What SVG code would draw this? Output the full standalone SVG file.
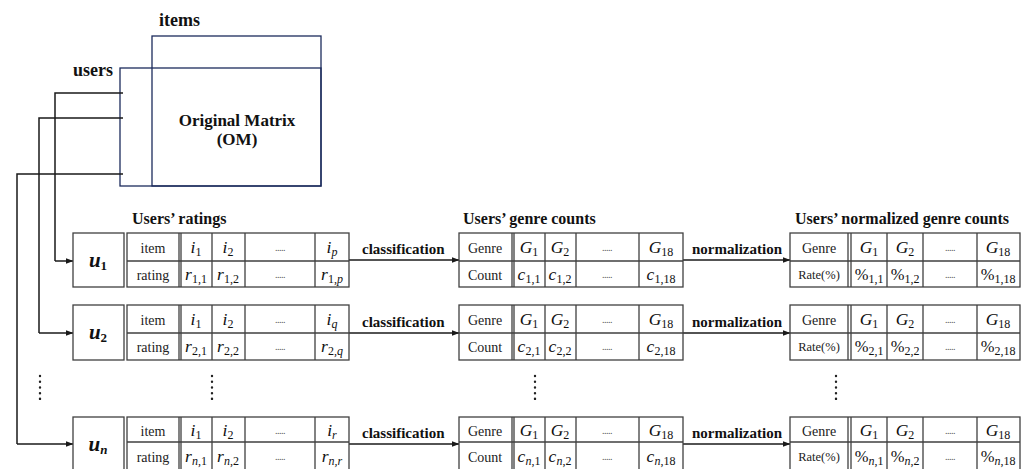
<svg xmlns="http://www.w3.org/2000/svg" width="1024" height="469" viewBox="0 0 1024 469">
  <style>
    .bg { fill: #ffffff; }
    .om { fill: none; stroke: #1c2b5c; stroke-width: 1.3; }
    .cell { fill: #ffffff; stroke: #404040; stroke-width: 1.3; }
    .ln { stroke: #404040; stroke-width: 1.3; fill: none; }
    .wire { stroke: #1a1a1a; stroke-width: 1.5; fill: none; }
    .arr { stroke: #1a1a1a; stroke-width: 1.5; fill: none; marker-end: url(#ah); }
    .title { font-family: "Liberation Serif", "Times New Roman", serif; font-weight: bold; font-size: 16px; fill: #111; }
    .big { font-family: "Liberation Serif", "Times New Roman", serif; font-weight: bold; font-size: 18px; fill: #111; }
    .om-t { font-family: "Liberation Serif", "Times New Roman", serif; font-weight: bold; font-size: 17px; fill: #111; text-anchor: middle; }
    .lab { font-family: "Liberation Serif", "Times New Roman", serif; font-weight: bold; font-size: 15px; fill: #111; }
    .tx { font-family: "Liberation Serif", "Times New Roman", serif; font-size: 14px; fill: #222; text-anchor: middle; }
    .sm { font-family: "Liberation Serif", "Times New Roman", serif; font-size: 12.5px; fill: #222; text-anchor: middle; }
    .m { font-family: "Liberation Serif", "Times New Roman", serif; font-style: italic; font-size: 17.5px; fill: #111; text-anchor: middle; }
    .pc { font-family: "Liberation Serif", "Times New Roman", serif; font-size: 16.5px; fill: #111; text-anchor: middle; }
    .sub { font-size: 12px; font-style: normal; }
    .u { font-family: "Liberation Serif", "Times New Roman", serif; font-style: italic; font-weight: bold; font-size: 21px; fill: #111; text-anchor: middle; }
    .usub { font-size: 13px; font-style: normal; }
    .it { font-style: italic; }
    .dots { font-family: "Liberation Serif", "Times New Roman", serif; font-size: 10px; fill: #555; text-anchor: middle; letter-spacing: -0.5px; }
    .vd { stroke: #222; stroke-width: 2.4; stroke-linecap: round; stroke-dasharray: 0.1 5.6; fill: none; }
  </style>
  <defs>
    <marker id="ah" markerWidth="8" markerHeight="6" refX="7.5" refY="3" orient="auto" markerUnits="userSpaceOnUse">
      <path d="M0,0 L8,3 L0,6 Z" fill="#1a1a1a"/>
    </marker>
  </defs>

  <rect class="bg" x="0" y="0" width="1024" height="469"/>

  <!-- original rating matrix -->
  <g id="matrix">
    <text class="big" x="159" y="26">items</text>
    <text class="big" x="113" y="76" text-anchor="end">users</text>
    <rect class="om" x="152" y="36" width="169" height="150"/>
    <rect class="om" x="120" y="68" width="201" height="118"/>
    <text class="om-t" x="237" y="126">Original Matrix</text>
    <text class="om-t" x="237" y="145">(OM)</text>
  </g>

  <!-- column titles -->
  <g id="titles">
    <text class="title" x="132" y="224">Users’ ratings</text>
    <text class="title" x="463" y="224">Users’ genre counts</text>
    <text class="title" x="795" y="224">Users’ normalized genre counts</text>
  </g>

  <!-- connectors -->
  <g id="connectors">
    <polyline class="wire" points="123,93 55,93 55,261"/>
    <line class="arr" x1="55" y1="261" x2="73" y2="261"/>
    <polyline class="wire" points="123,118 39,118 39,333"/>
    <line class="arr" x1="39" y1="333" x2="73" y2="333"/>
    <polyline class="wire" points="123,174 17,174 17,444"/>
    <line class="arr" x1="17" y1="444" x2="73" y2="444"/>

    <line class="arr" x1="349" y1="260" x2="459" y2="260"/>
    <line class="arr" x1="683" y1="260" x2="790" y2="260"/>
    <line class="arr" x1="349" y1="333" x2="459" y2="333"/>
    <line class="arr" x1="683" y1="333" x2="790" y2="333"/>
    <line class="arr" x1="349" y1="444" x2="459" y2="444"/>
    <line class="arr" x1="683" y1="444" x2="790" y2="444"/>

    <text class="lab" x="362" y="254">classification</text>
    <text class="lab" x="692" y="254">normalization</text>
    <text class="lab" x="362" y="327">classification</text>
    <text class="lab" x="692" y="327">normalization</text>
    <text class="lab" x="362" y="438">classification</text>
    <text class="lab" x="692" y="438">normalization</text>
  </g>

  <!-- user 1 -->
  <g id="user1">
    <rect class="cell" x="73" y="233" width="51" height="54"/>
    <text class="u" x="98" y="267">u<tspan class="usub" dy="3">1</tspan></text>
  </g>
  <g id="ratings1">
    <rect class="cell" x="127" y="233" width="222" height="54"/>
    <path class="ln" d="M127,261H349 M179,233V287 M181,233V287 M212,233V287 M245,233V287 M315,233V287"/>
    <text class="tx" x="153" y="253">item</text>
    <text class="tx" x="153" y="280">rating</text>
    <text class="m" x="196" y="253">i<tspan class="sub" dy="3">1</tspan></text>
    <text class="m" x="228" y="253">i<tspan class="sub" dy="3">2</tspan></text>
    <text class="dots" x="280" y="251">.....</text>
    <text class="m" x="332" y="253">i<tspan class="sub it" dy="3">p</tspan></text>
    <text class="m" x="196" y="280">r<tspan class="sub" dy="3">1,1</tspan></text>
    <text class="m" x="228" y="280">r<tspan class="sub" dy="3">1,2</tspan></text>
    <text class="dots" x="280" y="278">.....</text>
    <text class="m" x="332" y="280">r<tspan class="sub" dy="3">1,<tspan class="it">p</tspan></tspan></text>
  </g>
  <g id="genres1">
    <rect class="cell" x="459" y="233" width="224" height="54"/>
    <path class="ln" d="M459,261H683 M512,233V287 M514,233V287 M545,233V287 M576,233V287 M639,233V287"/>
    <text class="tx" x="485" y="253">Genre</text>
    <text class="tx" x="485" y="280">Count</text>
    <text class="m" x="529" y="253">G<tspan class="sub" dy="3">1</tspan></text>
    <text class="m" x="560" y="253">G<tspan class="sub" dy="3">2</tspan></text>
    <text class="dots" x="607" y="251">.....</text>
    <text class="m" x="661" y="253">G<tspan class="sub" dy="3">18</tspan></text>
    <text class="m" x="529" y="280">c<tspan class="sub" dy="3">1,1</tspan></text>
    <text class="m" x="560" y="280">c<tspan class="sub" dy="3">1,2</tspan></text>
    <text class="dots" x="607" y="278">.....</text>
    <text class="m" x="661" y="280">c<tspan class="sub" dy="3">1,18</tspan></text>
  </g>
  <g id="rates1">
    <rect class="cell" x="790" y="233" width="230" height="54"/>
    <path class="ln" d="M790,261H1020 M848,233V287 M851,233V287 M887,233V287 M923,233V287 M977,233V287"/>
    <text class="tx" x="819" y="253">Genre</text>
    <text class="sm" x="819" y="279">Rate(%)</text>
    <text class="m" x="869" y="253">G<tspan class="sub" dy="3">1</tspan></text>
    <text class="m" x="905" y="253">G<tspan class="sub" dy="3">2</tspan></text>
    <text class="dots" x="950" y="251">.....</text>
    <text class="m" x="998" y="253">G<tspan class="sub" dy="3">18</tspan></text>
    <text class="pc" x="869" y="280">%<tspan class="sub" dy="3">1,1</tspan></text>
    <text class="pc" x="905" y="280">%<tspan class="sub" dy="3">1,2</tspan></text>
    <text class="dots" x="950" y="278">.....</text>
    <text class="pc" x="998" y="280">%<tspan class="sub" dy="3">1,18</tspan></text>
  </g>

  <!-- user 2 -->
  <g id="user2">
    <rect class="cell" x="73" y="305" width="51" height="55"/>
    <text class="u" x="98" y="339">u<tspan class="usub" dy="3">2</tspan></text>
  </g>
  <g id="ratings2">
    <rect class="cell" x="127" y="305" width="222" height="55"/>
    <path class="ln" d="M127,333H349 M179,305V360 M181,305V360 M212,305V360 M245,305V360 M315,305V360"/>
    <text class="tx" x="153" y="325">item</text>
    <text class="tx" x="153" y="352">rating</text>
    <text class="m" x="196" y="325">i<tspan class="sub" dy="3">1</tspan></text>
    <text class="m" x="228" y="325">i<tspan class="sub" dy="3">2</tspan></text>
    <text class="dots" x="280" y="323">.....</text>
    <text class="m" x="332" y="325">i<tspan class="sub it" dy="3">q</tspan></text>
    <text class="m" x="196" y="352">r<tspan class="sub" dy="3">2,1</tspan></text>
    <text class="m" x="228" y="352">r<tspan class="sub" dy="3">2,2</tspan></text>
    <text class="dots" x="280" y="350">.....</text>
    <text class="m" x="332" y="352">r<tspan class="sub" dy="3">2,<tspan class="it">q</tspan></tspan></text>
  </g>
  <g id="genres2">
    <rect class="cell" x="459" y="305" width="224" height="55"/>
    <path class="ln" d="M459,333H683 M512,305V360 M514,305V360 M545,305V360 M576,305V360 M639,305V360"/>
    <text class="tx" x="485" y="325">Genre</text>
    <text class="tx" x="485" y="352">Count</text>
    <text class="m" x="529" y="325">G<tspan class="sub" dy="3">1</tspan></text>
    <text class="m" x="560" y="325">G<tspan class="sub" dy="3">2</tspan></text>
    <text class="dots" x="607" y="323">.....</text>
    <text class="m" x="661" y="325">G<tspan class="sub" dy="3">18</tspan></text>
    <text class="m" x="529" y="352">c<tspan class="sub" dy="3">2,1</tspan></text>
    <text class="m" x="560" y="352">c<tspan class="sub" dy="3">2,2</tspan></text>
    <text class="dots" x="607" y="350">.....</text>
    <text class="m" x="661" y="352">c<tspan class="sub" dy="3">2,18</tspan></text>
  </g>
  <g id="rates2">
    <rect class="cell" x="790" y="305" width="230" height="55"/>
    <path class="ln" d="M790,333H1020 M848,305V360 M851,305V360 M887,305V360 M923,305V360 M977,305V360"/>
    <text class="tx" x="819" y="325">Genre</text>
    <text class="sm" x="819" y="351">Rate(%)</text>
    <text class="m" x="869" y="325">G<tspan class="sub" dy="3">1</tspan></text>
    <text class="m" x="905" y="325">G<tspan class="sub" dy="3">2</tspan></text>
    <text class="dots" x="950" y="323">.....</text>
    <text class="m" x="998" y="325">G<tspan class="sub" dy="3">18</tspan></text>
    <text class="pc" x="869" y="352">%<tspan class="sub" dy="3">2,1</tspan></text>
    <text class="pc" x="905" y="352">%<tspan class="sub" dy="3">2,2</tspan></text>
    <text class="dots" x="950" y="350">.....</text>
    <text class="pc" x="998" y="352">%<tspan class="sub" dy="3">2,18</tspan></text>
  </g>

  <!-- vertical ellipses between user 2 and user n -->
  <g id="ellipses">
    <line class="vd" x1="40" y1="376" x2="40" y2="401"/>
    <line class="vd" x1="212" y1="376" x2="212" y2="401"/>
    <line class="vd" x1="535" y1="376" x2="535" y2="401"/>
    <line class="vd" x1="836" y1="376" x2="836" y2="401"/>
  </g>

  <!-- user n -->
  <g id="usern">
    <rect class="cell" x="73" y="417" width="51" height="54"/>
    <text class="u" x="98" y="451">u<tspan class="usub it" dy="3">n</tspan></text>
  </g>
  <g id="ratingsn">
    <rect class="cell" x="127" y="417" width="222" height="54"/>
    <path class="ln" d="M127,442H349 M179,417V471 M181,417V471 M212,417V471 M245,417V471 M315,417V471"/>
    <text class="tx" x="153" y="436">item</text>
    <text class="tx" x="153" y="462">rating</text>
    <text class="m" x="196" y="436">i<tspan class="sub" dy="3">1</tspan></text>
    <text class="m" x="228" y="436">i<tspan class="sub" dy="3">2</tspan></text>
    <text class="dots" x="280" y="434">.....</text>
    <text class="m" x="332" y="436">i<tspan class="sub it" dy="3">r</tspan></text>
    <text class="m" x="196" y="462">r<tspan class="sub" dy="3"><tspan class="it">n</tspan>,1</tspan></text>
    <text class="m" x="228" y="462">r<tspan class="sub" dy="3"><tspan class="it">n</tspan>,2</tspan></text>
    <text class="dots" x="280" y="460">.....</text>
    <text class="m" x="332" y="462">r<tspan class="sub it" dy="3">n,r</tspan></text>
  </g>
  <g id="genresn">
    <rect class="cell" x="459" y="417" width="224" height="54"/>
    <path class="ln" d="M459,442H683 M512,417V471 M514,417V471 M545,417V471 M576,417V471 M639,417V471"/>
    <text class="tx" x="485" y="436">Genre</text>
    <text class="tx" x="485" y="462">Count</text>
    <text class="m" x="529" y="436">G<tspan class="sub" dy="3">1</tspan></text>
    <text class="m" x="560" y="436">G<tspan class="sub" dy="3">2</tspan></text>
    <text class="dots" x="607" y="434">.....</text>
    <text class="m" x="661" y="436">G<tspan class="sub" dy="3">18</tspan></text>
    <text class="m" x="529" y="462">c<tspan class="sub" dy="3"><tspan class="it">n</tspan>,1</tspan></text>
    <text class="m" x="560" y="462">c<tspan class="sub" dy="3"><tspan class="it">n</tspan>,2</tspan></text>
    <text class="dots" x="607" y="460">.....</text>
    <text class="m" x="661" y="462">c<tspan class="sub" dy="3"><tspan class="it">n</tspan>,18</tspan></text>
  </g>
  <g id="ratesn">
    <rect class="cell" x="790" y="417" width="230" height="54"/>
    <path class="ln" d="M790,442H1020 M848,417V471 M851,417V471 M887,417V471 M923,417V471 M977,417V471"/>
    <text class="tx" x="819" y="436">Genre</text>
    <text class="sm" x="819" y="461">Rate(%)</text>
    <text class="m" x="869" y="436">G<tspan class="sub" dy="3">1</tspan></text>
    <text class="m" x="905" y="436">G<tspan class="sub" dy="3">2</tspan></text>
    <text class="dots" x="950" y="434">.....</text>
    <text class="m" x="998" y="436">G<tspan class="sub" dy="3">18</tspan></text>
    <text class="pc" x="869" y="462">%<tspan class="sub" dy="3"><tspan class="it">n</tspan>,1</tspan></text>
    <text class="pc" x="905" y="462">%<tspan class="sub" dy="3"><tspan class="it">n</tspan>,2</tspan></text>
    <text class="dots" x="950" y="460">.....</text>
    <text class="pc" x="998" y="462">%<tspan class="sub" dy="3"><tspan class="it">n</tspan>,18</tspan></text>
  </g>
</svg>
